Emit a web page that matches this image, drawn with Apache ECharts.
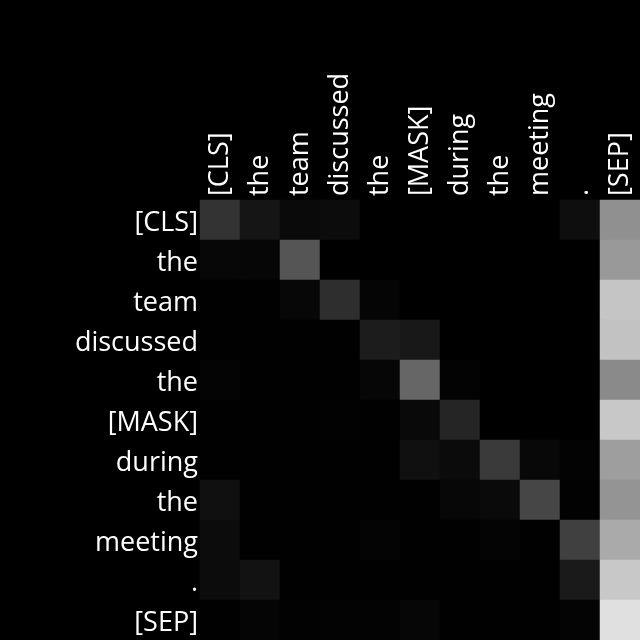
<!DOCTYPE html>
<html><head><meta charset="utf-8">
<script src="https://cdn.jsdelivr.net/npm/echarts@6/dist/echarts.min.js"></script>
<style>html,body{margin:0;padding:0;background:#000}#c{width:640px;height:640px}</style>
</head><body><div id="c"></div>
<script>
const tokens = ["[CLS]","the","team","discussed","the","[MASK]","during","the","meeting",".","[SEP]"];
// attention weights (rows = query token, cols = key token)
const row0 = [0.200,0.082,0.039,0.047,0,0,0,0,0,0.055,0.565];
const row1 = [0.027,0.024,0.333,0,0,0,0,0,0,0,0.600];
const row2 = [0.004,0.004,0.027,0.180,0.020,0,0,0,0,0,0.773];
const row3 = [0.004,0.002,0.002,0.002,0.110,0.094,0,0,0,0,0.761];
const row4 = [0.016,0.002,0.002,0.002,0.024,0.400,0.012,0,0,0,0.541];
const row5 = [0.004,0.004,0.004,0.008,0.004,0.037,0.145,0,0,0,0.784];
const row6 = [0.004,0.002,0.002,0.002,0.002,0.063,0.043,0.227,0.031,0.012,0.620];
const row7 = [0.063,0.002,0.002,0.002,0.002,0.002,0.027,0.039,0.275,0.008,0.580];
const row8 = [0.047,0.002,0.002,0.002,0.016,0.002,0.002,0.016,0.004,0.251,0.667];
const row9 = [0.047,0.071,0.002,0.002,0.002,0.002,0.002,0.002,0.002,0.102,0.784];
const row10 = [0.004,0.020,0.008,0.012,0.012,0.024,0.002,0.002,0.002,0.016,0.878];
const rows = [row0,row1,row2,row3,row4,row5,row6,row7,row8,row9,row10];

const data = [];
rows.forEach((r, y) => r.forEach((v, x) => data.push([x, y, v])));

const chart = echarts.init(document.getElementById('c'));
const font = "'Open Sans'";
chart.setOption({
  backgroundColor: '#000',
  animation: false,
  grid: {left: 200, top: 200, right: 0, bottom: 0},
  xAxis: {
    type: 'category', data: tokens, position: 'top',
    axisLine: {show: false}, axisTick: {show: false}, splitLine: {show: false},
    axisLabel: {rotate: -90, color: '#fff', fontSize: 27, fontFamily: font, margin: 4, interval: 0}
  },
  yAxis: {
    type: 'category', data: tokens, inverse: true,
    axisLine: {show: false}, axisTick: {show: false}, splitLine: {show: false},
    axisLabel: {
      color: '#fff', fontSize: 27, fontFamily: font, margin: 2, interval: 0,
      formatter: v => '{t|' + v + '}',
      rich: {t: {color: '#fff', fontSize: 27, fontFamily: font, padding: [6, 0, 0, 0]}}
    }
  },
  visualMap: {show: false, min: 0, max: 1, dimension: 2, inRange: {color: ['#000000', '#ffffff']}},
  series: [{type: 'heatmap', data: data, itemStyle: {borderWidth: 0}}]
});
</script></body></html>
